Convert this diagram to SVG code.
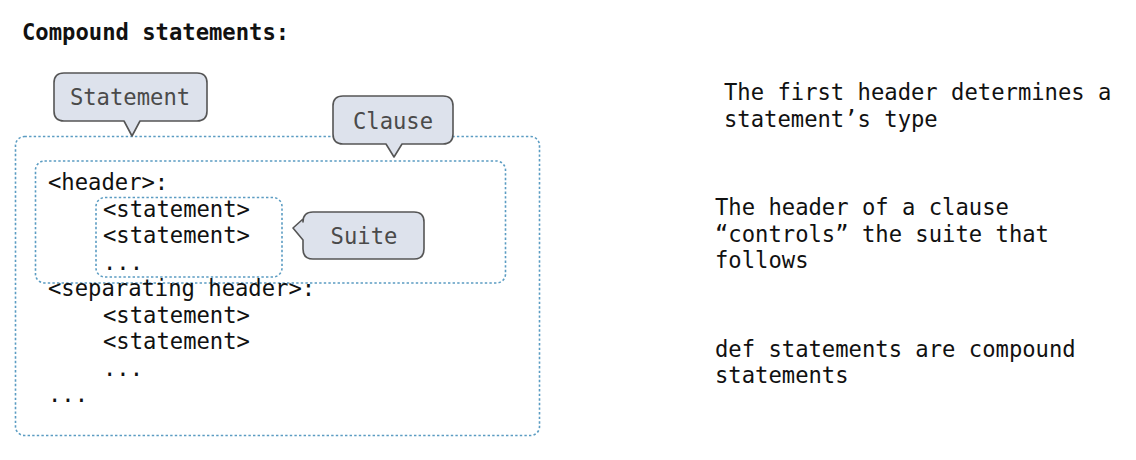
<svg xmlns="http://www.w3.org/2000/svg" width="1136" height="460" viewBox="0 0 1136 460">
<style>
  text { font-family: "DejaVu Sans Mono", "Liberation Mono", monospace; font-size: 22.2px; fill: #111; }
  .title { font-weight: bold; }
  .box { fill: none; stroke: #5b9cc2; stroke-width: 1.6; stroke-dasharray: 2.4 2.2; }
  .callout { fill: #dde2ec; stroke: #555; stroke-width: 1.6; stroke-linejoin: round; }
  .ctext { fill: #4a4a4a; text-anchor: middle; }
</style>
<rect width="1136" height="460" fill="#ffffff"/>
<text class="title" x="22" y="40">Compound statements:</text>

<g id="statement-box">
  <rect class="box" x="15.5" y="136.5" width="524" height="299" rx="9"/>
</g>
<g id="clause-box">
  <rect class="box" x="35.5" y="161" width="470" height="122" rx="9"/>
</g>
<g id="suite-box">
  <rect class="box" x="96" y="197.5" width="186" height="79.5" rx="9"/>
</g>

<g id="code">
  <text x="48" y="190">&lt;header&gt;:</text>
  <text x="103" y="216.5">&lt;statement&gt;</text>
  <text x="103" y="243">&lt;statement&gt;</text>
  <text x="103" y="269.5">...</text>
  <text x="48" y="296">&lt;separating header&gt;:</text>
  <text x="103" y="322.5">&lt;statement&gt;</text>
  <text x="103" y="349">&lt;statement&gt;</text>
  <text x="103" y="375.5">...</text>
  <text x="48" y="402">...</text>
</g>

<g id="statement-callout">
  <path class="callout" d="M64,73 H197 Q207,73 207,83 V111 Q207,121 197,121 H140 L132,136 L124,121 H64 Q54,121 54,111 V83 Q54,73 64,73 Z"/>
  <text class="ctext" x="130" y="105">Statement</text>
</g>
<g id="clause-callout">
  <path class="callout" d="M343,96 H443 Q453,96 453,106 V134 Q453,144 443,144 H402 L394,157 L386,144 H343 Q333,144 333,134 V106 Q333,96 343,96 Z"/>
  <text class="ctext" x="393" y="129">Clause</text>
</g>
<g id="suite-callout">
  <path class="callout" d="M313,212 H414 Q424,212 424,222 V249 Q424,259 414,259 H313 Q303,259 303,249 V240 L293,228 L303,219 V222 Q303,212 313,212 Z"/>
  <text class="ctext" x="364" y="244">Suite</text>
</g>

<g id="notes">
  <text x="724" y="100">The first header determines a</text>
  <text x="724" y="127">statement’s type</text>
  <text x="715" y="215">The header of a clause</text>
  <text x="715" y="242">“controls” the suite that</text>
  <text x="715" y="268">follows</text>
  <text x="715" y="357">def statements are compound</text>
  <text x="715" y="383">statements</text>
</g>
</svg>
